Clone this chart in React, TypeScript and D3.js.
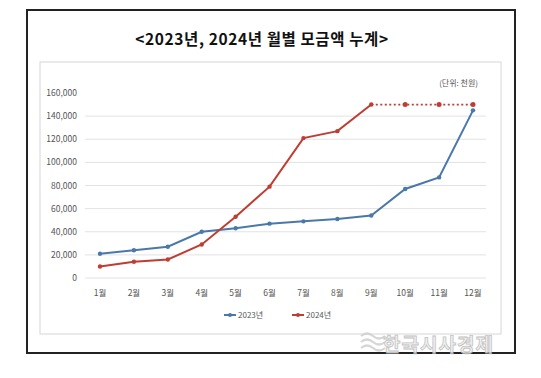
import React from "react";
import * as d3 from "d3";

const months = ["1월", "2월", "3월", "4월", "5월", "6월", "7월", "8월", "9월", "10월", "11월", "12월"];
const values2023 = [21000, 24000, 27000, 40000, 43000, 47000, 49000, 51000, 54000, 77000, 87000, 145000];
const values2024 = [10000, 14000, 16000, 29000, 53000, 79000, 121000, 127000, 150000];
const projected2024 = [150000, 150000, 150000, 150000]; // 9월 ~ 12월 (dotted)
const yTicks = [0, 20000, 40000, 60000, 80000, 100000, 120000, 140000, 160000];
const seriesNames = ["2023년", "2024년"];

const W = 541;
const H = 378;
const FONT = "'Noto Sans CJK KR', 'Noto Sans', sans-serif";
const BLUE = "#4a78a8";
const RED = "#bf3d32";

export default function App() {
  const x = d3.scalePoint<string>().domain(months).range([100, 473]);
  const y = d3.scaleLinear().domain([0, 160000]).range([278, 93]);
  const line = d3
    .line<number>()
    .x((_, i) => x(months[i]) as number)
    .y((d) => y(d));
  const lineProj = d3
    .line<number>()
    .x((_, i) => x(months[i + 8]) as number)
    .y((d) => y(d));

  return (
    <svg
      width={W}
      height={H}
      style={{ position: "absolute", left: 0, top: 0, background: "#fff" }}
      fontFamily={FONT}
    >
      <rect x={0} y={0} width={W} height={H} fill="#fff" />
      {/* outer frame */}
      <rect x={27} y={10} width={488} height={343} fill="none" stroke="#222" strokeWidth={2} />
      {/* title */}
      <text x={262} y={45} textAnchor="middle" fontSize={15.5} fontWeight="bold" fill="#111" letterSpacing={0.6}>
        {"<2023년, 2024년 월별 모금액 누계>"}
      </text>
      {/* inner chart frame */}
      <rect x={40} y={62} width={461} height={272} fill="none" stroke="#d6d6d6" strokeWidth={1} />
      {/* unit */}
      <text x={478} y={86} textAnchor="end" fontSize={8} fill="#555">
        (단위: 천원)
      </text>
      {/* gridlines & y labels */}
      {yTicks.map((t) => (
        <g key={t}>
          {t < 160000 ? (
            <line x1={85} x2={486} y1={y(t)} y2={y(t)} stroke="#e2e2e2" strokeWidth={1} />
          ) : null}
          <text x={77} y={y(t) + 3} textAnchor="end" fontSize={8.5} fill="#555">
            {d3.format(",")(t)}
          </text>
        </g>
      ))}
      {/* x labels */}
      {months.map((m) => (
        <text key={m} x={x(m)} y={296} textAnchor="middle" fontSize={8.5} fill="#555">
          {m}
        </text>
      ))}
      {/* 2023 series */}
      <path d={line(values2023) || ""} fill="none" stroke={BLUE} strokeWidth={2} />
      {values2023.map((v, i) => (
        <circle key={"b" + i} cx={x(months[i])} cy={y(v)} r={2.2} fill={BLUE} />
      ))}
      {/* 2024 projected dotted */}
      <path d={lineProj(projected2024) || ""} fill="none" stroke={RED} strokeWidth={1.8} strokeDasharray="2 2.5" />
      {projected2024.slice(1).map((v, i) => (
        <circle key={"p" + i} cx={x(months[i + 9])} cy={y(v)} r={2.5} fill={RED} />
      ))}
      {/* 2024 series */}
      <path d={line(values2024) || ""} fill="none" stroke={RED} strokeWidth={2} />
      {values2024.map((v, i) => (
        <circle key={"r" + i} cx={x(months[i])} cy={y(v)} r={2.2} fill={RED} />
      ))}
      {/* legend */}
      <g>
        <line x1={224} x2={236} y1={315} y2={315} stroke={BLUE} strokeWidth={2} />
        <circle cx={230} cy={315} r={2} fill={BLUE} />
        <text x={238} y={318} fontSize={8} fill="#555">{seriesNames[0]}</text>
        <line x1={292} x2={304} y1={315} y2={315} stroke={RED} strokeWidth={2} />
        <circle cx={298} cy={315} r={2} fill={RED} />
        <text x={306} y={318} fontSize={8} fill="#555">{seriesNames[1]}</text>
      </g>
      {/* watermark */}
      <g opacity={0.85}>
        <g fill="none" stroke="#d0d0d0" strokeWidth={2.2}>
          <path d="M361 336 q6 -5 12 0 t12 0" />
          <path d="M361 342 q6 -5 12 0 t12 0" />
          <path d="M361 348 q6 -5 12 0 t12 0" />
        </g>
        <text
          x={383}
          y={352}
          fontSize={19}
          fontWeight="bold"
          fill="#eeeeee"
          stroke="#b8b8b8"
          strokeWidth={0.8}
          letterSpacing={1}
        >
          한국시사경제
        </text>
      </g>
    </svg>
  );
}
